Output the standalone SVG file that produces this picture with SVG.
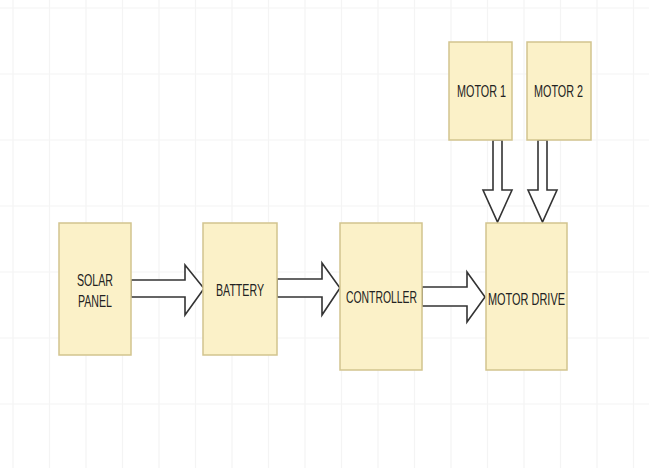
<svg xmlns="http://www.w3.org/2000/svg" width="649" height="468" viewBox="0 0 649 468">
<style>
.grid line{stroke:#f4f4f4;stroke-width:1.2}
.box{fill:#fbf1c8;stroke:#d2c48e;stroke-width:1.5}
.arr{fill:#ffffff;stroke:#333333;stroke-width:1.6;stroke-linejoin:miter}
.lbl{font-family:"Liberation Sans",Arial,sans-serif;font-size:16px;fill:#222222;text-anchor:middle}
</style>
<rect width="649" height="468" fill="#ffffff"/>
<g class="grid">
<line x1="13" y1="0" x2="13" y2="468"/><line x1="49.5" y1="0" x2="49.5" y2="468"/><line x1="86" y1="0" x2="86" y2="468"/><line x1="122.5" y1="0" x2="122.5" y2="468"/><line x1="159" y1="0" x2="159" y2="468"/><line x1="195.5" y1="0" x2="195.5" y2="468"/><line x1="232" y1="0" x2="232" y2="468"/><line x1="268.5" y1="0" x2="268.5" y2="468"/><line x1="305" y1="0" x2="305" y2="468"/><line x1="341.5" y1="0" x2="341.5" y2="468"/><line x1="378" y1="0" x2="378" y2="468"/><line x1="414.5" y1="0" x2="414.5" y2="468"/><line x1="451" y1="0" x2="451" y2="468"/><line x1="487.5" y1="0" x2="487.5" y2="468"/><line x1="524" y1="0" x2="524" y2="468"/><line x1="560.5" y1="0" x2="560.5" y2="468"/><line x1="597" y1="0" x2="597" y2="468"/><line x1="633.5" y1="0" x2="633.5" y2="468"/>
<line x1="0" y1="8" x2="649" y2="8"/><line x1="0" y1="74" x2="649" y2="74"/><line x1="0" y1="140" x2="649" y2="140"/><line x1="0" y1="206" x2="649" y2="206"/><line x1="0" y1="272" x2="649" y2="272"/><line x1="0" y1="338" x2="649" y2="338"/><line x1="0" y1="404" x2="649" y2="404"/>
</g>
<g id="connectors">
<polygon class="arr" points="131,280 185,280 185,265 204,288.5 185,315 185,297 131,297"/>
<polygon class="arr" points="277,279 322,279 322,263 340,288 322,315 322,297 277,297"/>
<polygon class="arr" points="422,287 467,287 467,272 485,297 467,322 467,306 422,306"/>
<polygon class="arr" points="493,140 502,140 502,190 512,190 497.5,222 483,190 493,190"/>
<polygon class="arr" points="538,140 547,140 547,190 557,190 542.5,222 528,190 538,190"/>
</g>
<g id="solar-panel">
<rect class="box" x="59" y="223" width="72" height="132"/>
<text class="lbl" x="95" y="286" textLength="36" lengthAdjust="spacingAndGlyphs">SOLAR</text>
<text class="lbl" x="95" y="307" textLength="34" lengthAdjust="spacingAndGlyphs">PANEL</text>
</g>
<g id="battery">
<rect class="box" x="203" y="223" width="74" height="132"/>
<text class="lbl" x="240" y="296" textLength="48" lengthAdjust="spacingAndGlyphs">BATTERY</text>
</g>
<g id="controller">
<rect class="box" x="340" y="223" width="82" height="147"/>
<text class="lbl" x="381.5" y="303" textLength="71" lengthAdjust="spacingAndGlyphs">CONTROLLER</text>
</g>
<g id="motor-drive">
<rect class="box" x="486" y="223" width="81" height="147"/>
<text class="lbl" x="526.5" y="305" textLength="77" lengthAdjust="spacingAndGlyphs">MOTOR DRIVE</text>
</g>
<g id="motor-1">
<rect class="box" x="449" y="42" width="63" height="98"/>
<text class="lbl" x="481.5" y="97" textLength="49" lengthAdjust="spacingAndGlyphs">MOTOR 1</text>
</g>
<g id="motor-2">
<rect class="box" x="527" y="42" width="64" height="98"/>
<text class="lbl" x="558.5" y="97" textLength="49" lengthAdjust="spacingAndGlyphs">MOTOR 2</text>
</g>
</svg>
